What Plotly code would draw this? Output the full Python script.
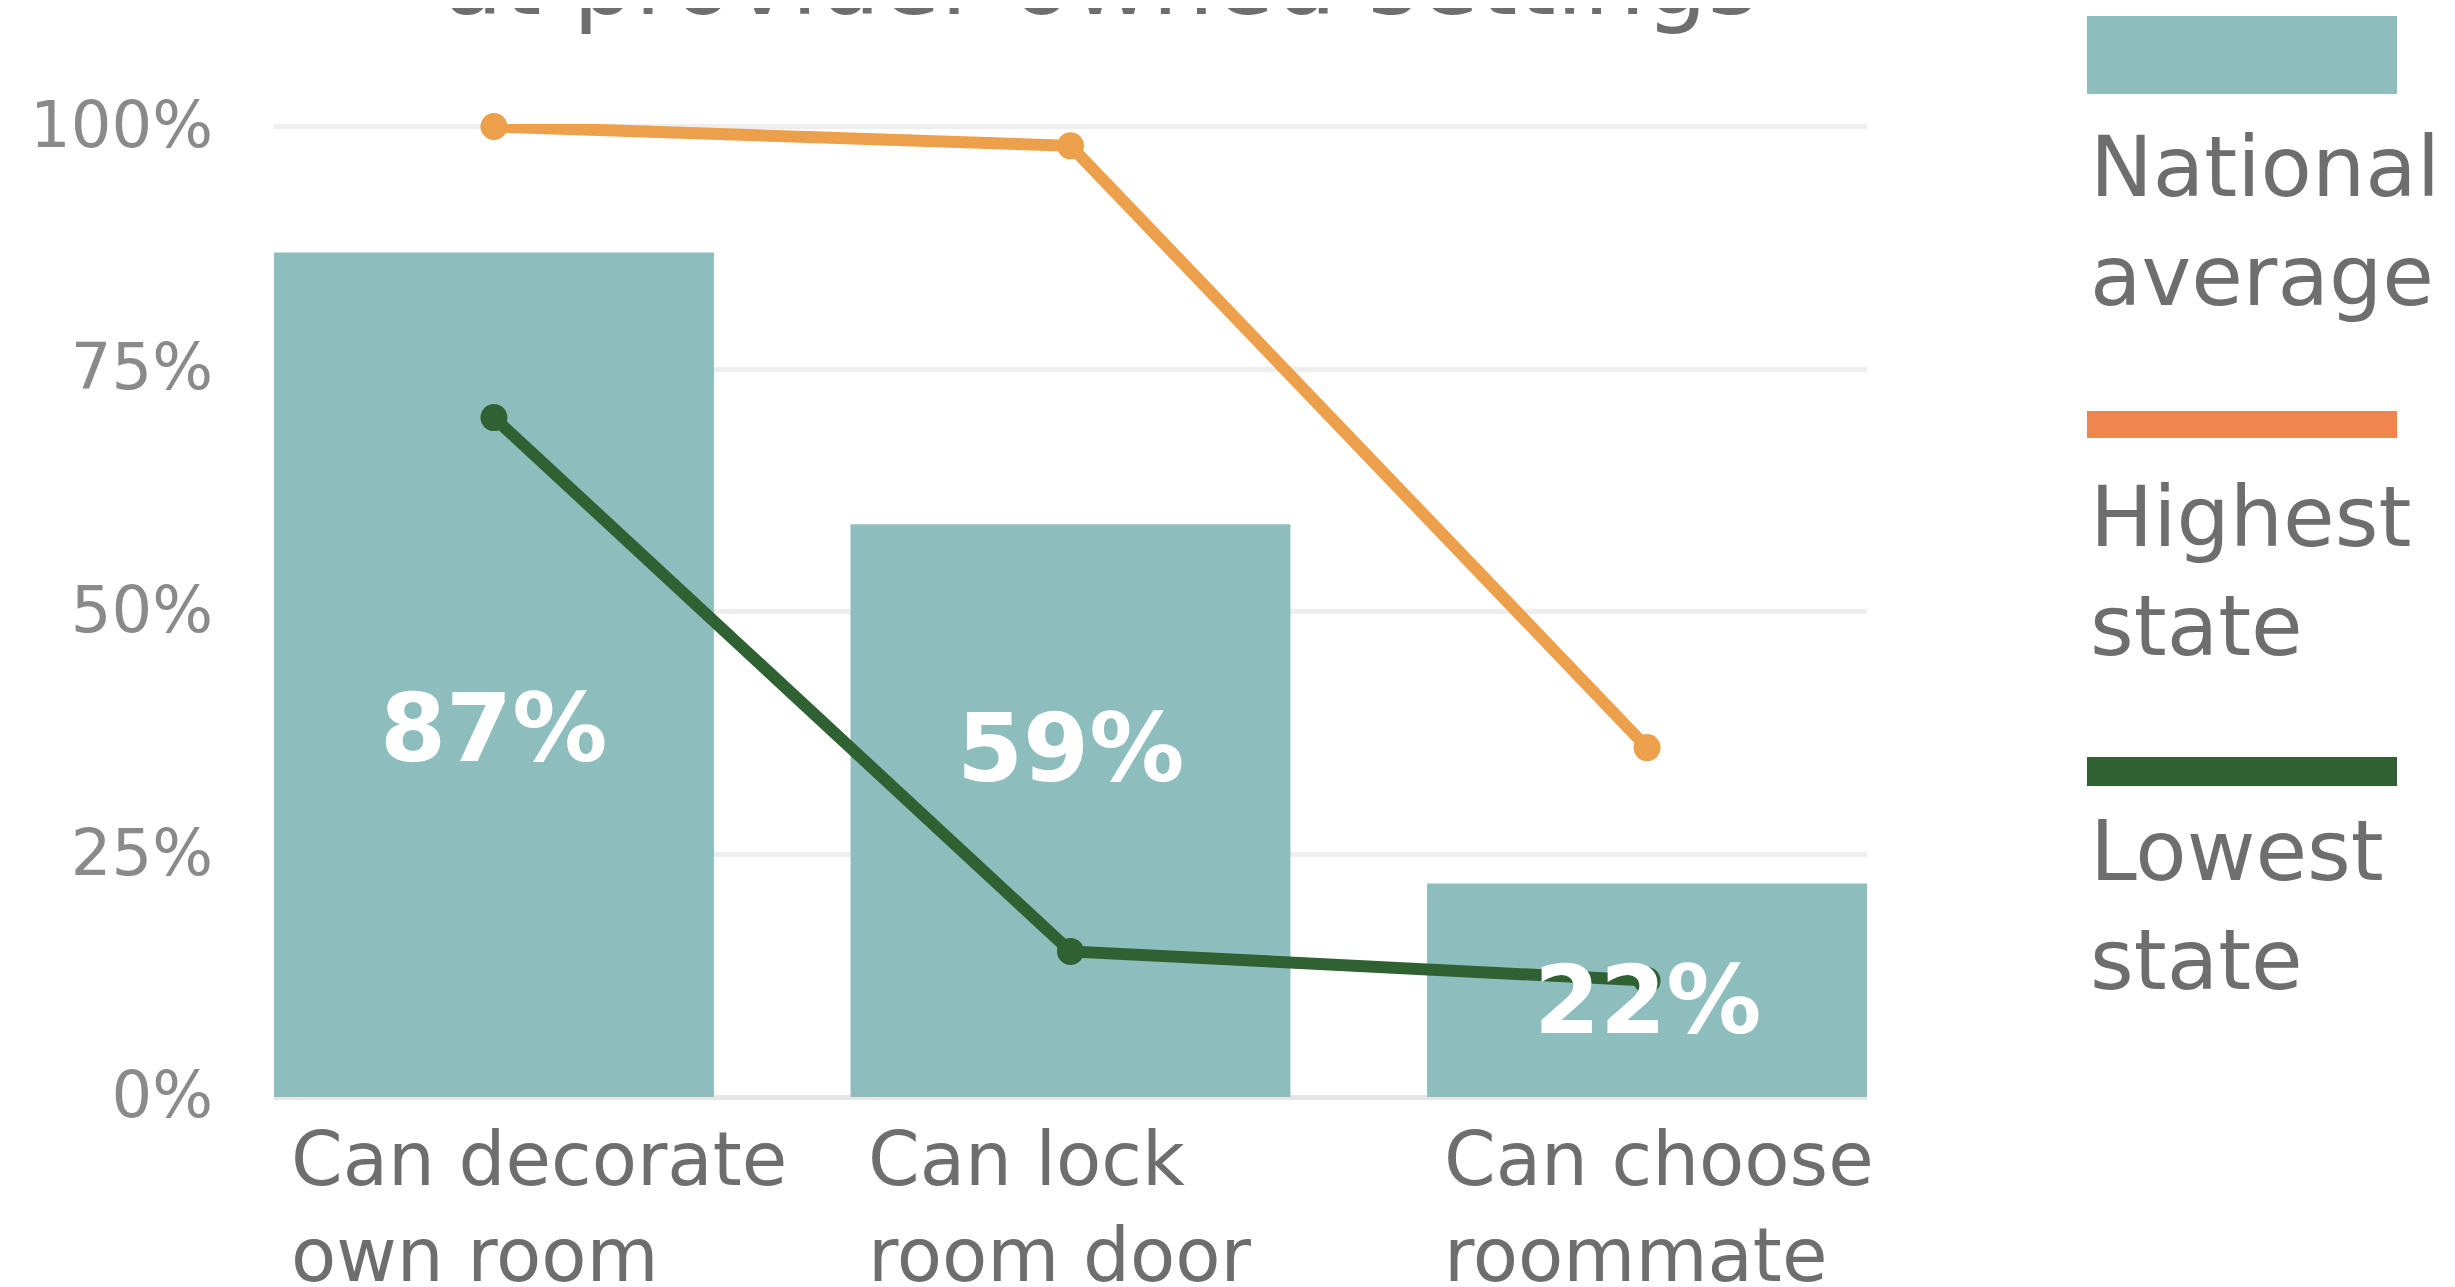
import plotly.graph_objects as go

# ---------------- data ----------------
categories = ["Can decorate own room", "Can lock room door", "Can choose roommate"]
category_labels = ["Can decorate<br>own room", "Can lock<br>room door", "Can choose<br>roommate"]
national_avg = [87, 59, 22]
highest_state = [100, 98, 36]
lowest_state = [70, 15, 12]
series_names = ["National<br>average", "Highest<br>state", "Lowest<br>state"]
y_ticks = [0, 25, 50, 75, 100]
y_tick_labels = ["0%", "25%", "50%", "75%", "100%"]
title_line = "at provider-owned settings"

# ---------------- style ----------------
W, H = 2455, 1287
BODY = 8                                 # default page body margin
PL, PR, PT, PB = 274, 1867, 124, 1097    # plot area in screen pixels
Y_MAX = 100.25
FONT = "DejaVu Sans"
TEAL = "#8EBDBD"
ORANGE_LINE = "#EDA04B"
ORANGE_KEY = "#F0854F"
GREEN = "#2F6133"
TEXT_GRAY = "#6E6E6E"
TICK_GRAY = "#8A8A8A"
BAR_W = 0.763
label_y_pos = [38, 36, 10]   # vertical placement of value labels (axis units)


def px_x(px):
    return (px - PL) / (PR - PL)


def px_y(py):
    return (PB - py) / (PB - PT)


fig = go.Figure()

fig.add_trace(go.Bar(
    x=categories, y=national_avg, width=BAR_W,
    marker=dict(color=TEAL, line=dict(width=0)),
    name="National average", showlegend=False, hoverinfo="skip",
))
fig.add_trace(go.Scatter(
    x=categories, y=highest_state, mode="lines+markers",
    line=dict(color=ORANGE_LINE, width=12), marker=dict(size=27, color=ORANGE_LINE),
    cliponaxis=False, showlegend=False, name="Highest state",
))
fig.add_trace(go.Scatter(
    x=categories, y=lowest_state, mode="lines+markers",
    line=dict(color=GREEN, width=12), marker=dict(size=27, color=GREEN),
    cliponaxis=False, showlegend=False, name="Lowest state",
))

annotations = []
# value labels on bars
for cat, v, ly in zip(categories, national_avg, label_y_pos):
    annotations.append(dict(
        x=cat, y=ly, xref="x", yref="y", text=f"{v}%", showarrow=False,
        font=dict(family=FONT, size=95, color="white", weight="bold"),
        xanchor="center", yanchor="middle",
    ))
# category labels (left aligned, two lines)
for cat, lab in zip(categories, category_labels):
    annotations.append(dict(
        x=cat, y=0, xref="x", yref="paper", text=lab, showarrow=False,
        font=dict(family=FONT, size=74, color=TEXT_GRAY),
        xanchor="left", yanchor="top", align="left", xshift=-205, yshift=-17,
    ))
# title (cut off at the top edge)
annotations.append(dict(
    x=px_x(1101), y=px_y(-20), xref="paper", yref="paper", text=title_line,
    showarrow=False, font=dict(family=FONT, size=98, color=TEXT_GRAY),
    xanchor="center", yanchor="middle",
))

# custom legend: swatch above wrapped text
key_colors = [TEAL, ORANGE_KEY, GREEN]
key_boxes = [(16, 94), (411, 438), (757, 786)]
key_text_top = [116, 466, 800]
shapes = []
for name, col, (y0, y1), tt in zip(series_names, key_colors, key_boxes, key_text_top):
    shapes.append(dict(
        type="rect", xref="paper", yref="paper",
        x0=px_x(2087), x1=px_x(2397), y0=px_y(y1), y1=px_y(y0),
        fillcolor=col, line=dict(width=0),
    ))
    annotations.append(dict(
        x=px_x(2088), y=px_y(tt), xref="paper", yref="paper", text=name,
        showarrow=False, font=dict(family=FONT, size=84, color=TEXT_GRAY),
        xanchor="left", yanchor="top", align="left",
    ))

fig.update_layout(
    width=W, height=H,
    margin=dict(l=PL - BODY, r=W - PR + BODY, t=PT - BODY, b=H - PB + BODY,
                pad=0, autoexpand=False),
    paper_bgcolor="white", plot_bgcolor="white",
    showlegend=False,
    annotations=annotations,
    shapes=shapes,
    font=dict(family=FONT),
)
fig.update_xaxes(
    range=[-BAR_W / 2, len(categories) - 1 + BAR_W / 2],
    showticklabels=False, showgrid=False, zeroline=False, showline=False,
    ticks="", automargin=False,
)
fig.update_yaxes(
    range=[0, Y_MAX], tickvals=y_ticks, ticktext=y_tick_labels,
    showgrid=True, gridcolor="#EEEEEE", gridwidth=5,
    zeroline=True, zerolinecolor="#E6E6E6", zerolinewidth=5,
    showline=False, ticks="", ticklabelstandoff=60, ticklabelshift=-2,
    tickfont=dict(family=FONT, size=64, color=TICK_GRAY),
    automargin=False,
)

fig.write_html("out.html")
